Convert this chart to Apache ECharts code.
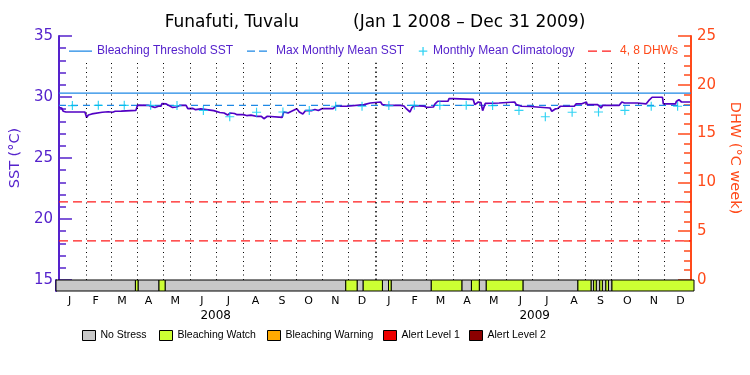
<!DOCTYPE html>
<html><head><meta charset="utf-8">
<script src="https://cdn.jsdelivr.net/npm/echarts@6/dist/echarts.min.js"></script>
<style>html,body{margin:0;padding:0;background:#fff}#c{width:750px;height:375px}</style>
</head><body><div id="c"></div>
<script>
// ---------------- data ----------------
const titleText = 'Funafuti, Tuvalu          (Jan 1 2008 \u2013 Dec 31 2009)';
const monthLetters = ['J','F','M','A','M','J','J','A','S','O','N','D'];
const yearLabels = ['2008','2009'];
// daily SST traced at change points: day index from Jan 1 2008, value in °C
const sstDay = [0,3,5,8,30,32,34,38,39,50,57,62,65,72,73,89,91,93,103,104,108,111,115,118,119,124,126,131,133,136,140,147,149,155,158,164,165,179,180,186,188,191,195,198,203,206,213,217,222,228,234,237,241,243,258,260,265,269,275,278,282,285,292,296,300,304,317,320,333,335,353,355,360,361,372,374,379,395,399,402,406,408,411,422,425,433,435,438,450,451,456,457,479,481,485,488,489,490,493,509,511,527,529,535,545,547,568,570,574,577,580,596,598,604,605,610,611,623,624,627,629,648,651,654,669,670,679,682,686,698,699,713,714,717,720,730];
const sstVal = [29.14,29.10,28.83,28.77,28.77,28.33,28.52,28.61,28.73,28.75,28.79,28.75,28.83,28.85,28.91,28.91,29.34,29.37,29.32,29.18,29.21,29.14,29.24,29.24,29.45,29.43,29.32,29.15,29.30,29.18,29.32,29.32,29.04,29.06,28.96,29.03,28.89,28.88,28.77,28.73,28.57,28.69,28.52,28.69,28.65,28.55,28.55,28.48,28.52,28.42,28.42,28.22,28.42,28.34,28.33,28.77,28.69,28.83,29.04,28.77,28.61,28.88,28.88,28.98,28.89,29.04,29.04,29.24,29.24,29.37,29.37,29.51,29.51,29.59,29.59,29.37,29.32,29.32,29.26,29.02,28.77,29.10,29.30,29.26,29.15,29.18,29.43,29.65,29.65,29.86,29.86,29.81,29.81,29.37,29.59,29.55,29.51,28.88,29.47,29.51,29.59,29.59,29.37,29.24,29.22,29.10,29.10,28.83,29.02,29.06,29.24,29.24,29.43,29.43,29.59,29.59,29.37,29.37,29.24,29.10,29.32,29.32,29.59,29.51,29.51,29.43,29.43,29.70,29.98,29.98,29.43,29.43,29.63,29.78,29.59,29.59];
// monthly mean climatology (Jan..Dec), °C
const climatology = [29.30,29.32,29.32,29.32,29.30,28.90,28.38,28.75,28.77,28.90,29.24,29.24];
const mmmValue = 29.32;
const thresholdValue = 30.32;
const dhwLevels = [4, 8];
// stress status segments: [start day, end day), level index
const statusStart = [0,91,94,118,125,332,345,352,374,381,384,430,465,476,485,493,535,598,613,616,619,623,626,630,633,637];
const statusEnd   = [91,94,118,125,332,345,352,374,381,384,430,465,476,485,493,535,598,613,616,619,623,626,630,633,637,731];
const statusLevel = [0,1,0,1,0,1,0,1,0,1,0,1,0,1,0,1,0,1,0,1,0,1,0,1,0,1];
const statusNames = ['No Stress','Bleaching Watch','Bleaching Warning','Alert Level 1','Alert Level 2'];
const statusColors = ['#c8c8c8','#ccff33','#ffaa00','#ee0000','#8b0000'];

// ---------------- calendar helpers ----------------
const DAY = 86400000, T0 = Date.UTC(2008,0,1);
const monthStart = [];
for (let y = 2008; y <= 2009; y++) for (let m = 0; m < 12; m++) monthStart.push((Date.UTC(y,m,1)-T0)/DAY);
const totalDays = (Date.UTC(2010,0,1)-T0)/DAY;
const monthEnd = monthStart.slice(1).concat([totalDays]);
const monthMid = monthStart.map((s,i)=>(s+monthEnd[i])/2);
const yearMid = [183, (366+731)/2];

const PURPLE = '#5522cc', LINEPURPLE = '#5200c4', ORANGE = '#ff4a1a', BLUE = '#1e88e5', CYAN = '#00c8f0', RED = '#ff1a1a';

const sstData = sstDay.map((d,i)=>[d, sstVal[i]]);
const climData = monthMid.map((d,i)=>[d, climatology[i % 12]]);

const monthLines = monthStart.slice(1).map(d => [
  {coord:[d,15], lineStyle: d===366 ? {width:1.5, type:[1.5,3]} : undefined},
  {coord:[d,32.8]}
]);

function statusSeries(level){
  const data = [];
  statusStart.forEach((s,i)=>{ if (statusLevel[i]===level) data.push([s, statusEnd[i]]); });
  return {
    name: statusNames[level], type:'custom', xAxisIndex:1, yAxisIndex:2,
    itemStyle:{color: statusColors[level]}, silent:true,
    encode:{x:[0,1]},
    data,
    renderItem(params, api){
      const p0 = api.coord([api.value(0), 1]);
      const p1 = api.coord([api.value(1), 0]);
      return {type:'rect', shape:{x:p0[0], y:p0[1], width:p1[0]-p0[0], height:p1[1]-p0[1]},
        style:{fill: statusColors[level], stroke:'#000', lineWidth:1}};
    }
  };
}

const iconSolid = 'path://M0,0L0,0ZM23,11L23,11ZM0,5h23v1.3h-23z';
const iconDash  = 'path://M0,0L0,0ZM24,11L24,11ZM0,5h8v1.3h-8zM12,5h8v1.3h-8z';
const iconPlus  = 'path://M0,0L0,0ZM10,11L10,11ZM4.4,1.5h1.3v8.5h-1.3zM0.8,5h8.5v1.3h-8.5z';
const iconDash2 = 'path://M0,0L0,0ZM27,11L27,11ZM0,5h9v1.3h-9zM14,5h9v1.3h-9z';

function topLegend(name, icon, color, left, w, textColor){
  return {data:[{name, icon, itemStyle:{color, borderWidth:0}}], left, top:45, padding:0,
    itemWidth:w, itemHeight:11, selectedMode:false, orient:'horizontal',
    textStyle:{color:textColor, fontSize:12, fontFamily:'Liberation Sans'}};
}
function botLegend(i, left){
  return {data:[{name:statusNames[i], icon:'rect', itemStyle:{color:statusColors[i], borderColor:'#000', borderWidth:1}}],
    left, top:330, padding:0, itemWidth:13, itemHeight:10, selectedMode:false,
    textStyle:{color:'#000', fontSize:10.5, fontFamily:'Liberation Sans'}};
}

const chart = echarts.init(document.getElementById('c'));
chart.setOption({
  animation:false,
  backgroundColor:'#fff',
  title:{text:titleText, left:'center', top:9, textStyle:{color:'#000', fontSize:17, fontWeight:'normal', fontFamily:'DejaVu Sans'}},
  legend:[
    topLegend('Bleaching Threshold SST', iconSolid, BLUE, 69, 23, PURPLE),
    topLegend('Max Monthly Mean SST', iconDash, BLUE, 247, 24, PURPLE),
    topLegend('Monthly Mean Climatology', iconPlus, CYAN, 418, 10, PURPLE),
    topLegend('4, 8 DHWs', iconDash2, RED, 588, 27, ORANGE),
    botLegend(0, 82), botLegend(1, 159), botLegend(2, 267), botLegend(3, 383), botLegend(4, 469)
  ],
  grid:[
    {left:56, right:56, top:36, height:244},
    {left:56, right:56, top:280, height:11}
  ],
  xAxis:[
    {type:'value', gridIndex:0, min:0, max:totalDays, position:'top',
      axisLine:{show:true, lineStyle:{color:'#000', width:1}}, axisTick:{show:false}, axisLabel:{show:false}, splitLine:{show:false}},
    {type:'value', gridIndex:1, min:0, max:totalDays, position:'bottom',
      axisLine:{show:false}, axisTick:{show:false}, splitLine:{show:false},
      axisLabel:{customValues:monthMid, margin:5, color:'#000', fontSize:11, fontFamily:'DejaVu Sans',
        formatter:v=>{const i=monthMid.findIndex(m=>Math.abs(m-v)<0.01); return i<0?'':monthLetters[i%12];}}},
    {type:'value', gridIndex:1, min:0, max:totalDays, position:'bottom', offset:15,
      axisLine:{show:false}, axisTick:{show:false}, splitLine:{show:false},
      axisLabel:{customValues:yearMid, margin:4, color:'#000', fontSize:12, fontFamily:'DejaVu Sans',
        formatter:v=>{const i=yearMid.findIndex(m=>Math.abs(m-v)<0.01); return i<0?'':yearLabels[i];}}}
  ],
  yAxis:[
    {type:'value', gridIndex:0, min:15, max:35, interval:5, position:'left',
      name:'SST (\u00b0C)', nameLocation:'middle', nameGap:33,
      nameTextStyle:{color:PURPLE, fontSize:14.5, fontFamily:'DejaVu Sans'},
      axisLine:{show:true, lineStyle:{color:PURPLE, width:2}},
      axisTick:{show:true, inside:true, length:13, lineStyle:{color:PURPLE, width:1.5}},
      minorTick:{show:true, splitNumber:5, length:7, lineStyle:{color:PURPLE, width:1.5}},
      axisLabel:{color:PURPLE, fontSize:15, fontFamily:'DejaVu Sans', margin:6},
      splitLine:{show:false}},
    {type:'value', gridIndex:0, min:0, max:25, interval:5, position:'right',
      name:'DHW (\u00b0C week)', nameLocation:'middle', nameGap:28, nameRotate:-90,
      nameTextStyle:{color:ORANGE, fontSize:14.5, fontFamily:'DejaVu Sans'},
      axisLine:{show:true, lineStyle:{color:ORANGE, width:2}},
      axisTick:{show:true, inside:true, length:13, lineStyle:{color:ORANGE, width:1.5}},
      minorTick:{show:true, splitNumber:5, length:7, lineStyle:{color:ORANGE, width:1.5}},
      axisLabel:{color:ORANGE, fontSize:15, fontFamily:'DejaVu Sans', margin:6},
      splitLine:{show:false}},
    {type:'value', gridIndex:1, min:0, max:1, position:'left',
      axisLine:{show:true, lineStyle:{color:PURPLE, width:2}}, axisTick:{show:false}, axisLabel:{show:false}, splitLine:{show:false}}
  ],
  series:[
    {name:'Bleaching Threshold SST', type:'line', xAxisIndex:0, yAxisIndex:0, symbol:'none', silent:true,
      data:[[0,thresholdValue],[totalDays,thresholdValue]], lineStyle:{color:BLUE, width:1.3}, itemStyle:{color:BLUE},
      markLine:{silent:true, symbol:['none','none'], label:{show:false}, animation:false,
        lineStyle:{color:'#000', width:1, type:[1,3.5]}, emphasis:{disabled:true}, data:monthLines}},
    {name:'Max Monthly Mean SST', type:'line', xAxisIndex:0, yAxisIndex:0, symbol:'none', silent:true,
      data:[[0,mmmValue],[totalDays,mmmValue]], lineStyle:{color:BLUE, width:1.3, type:[7,5]}, itemStyle:{color:BLUE}},
    {name:'4, 8 DHWs', type:'line', xAxisIndex:0, yAxisIndex:1, symbol:'none', silent:true,
      data:[[0,dhwLevels[0]],[totalDays,dhwLevels[0]]], lineStyle:{color:RED, width:1.3, type:[9,5]}, itemStyle:{color:RED}},
    {name:'4, 8 DHWs', type:'line', xAxisIndex:0, yAxisIndex:1, symbol:'none', silent:true,
      data:[[0,dhwLevels[1]],[totalDays,dhwLevels[1]]], lineStyle:{color:RED, width:1.3, type:[9,5]}, itemStyle:{color:RED}},
    {name:'SST', type:'line', xAxisIndex:0, yAxisIndex:0, symbol:'none', silent:true, z:3,
      data:sstData, lineStyle:{color:LINEPURPLE, width:1.7}, itemStyle:{color:LINEPURPLE}},
    {name:'Monthly Mean Climatology', type:'scatter', xAxisIndex:0, yAxisIndex:0, silent:true, z:4,
      symbol:'path://M4.35,0h1.3v10h-1.3zM0,4.35h10v1.3h-10z', symbolSize:9,
      data:climData, itemStyle:{color:CYAN}},
    statusSeries(0), statusSeries(1), statusSeries(2), statusSeries(3), statusSeries(4)
  ]
});
</script></body></html>
